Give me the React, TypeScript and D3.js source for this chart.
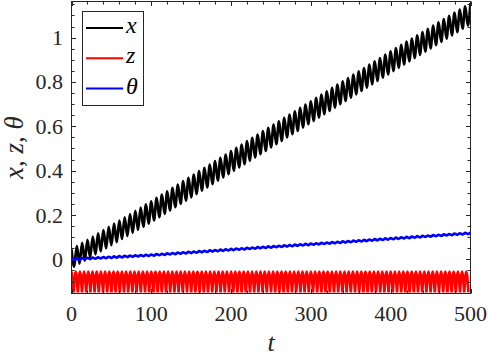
import React, { useEffect, useRef } from 'react';
import * as d3 from 'd3';

// envelope of each trace at these times
const T_KNOTS = [0, 100, 200, 300, 400, 500];
const X_UPPER = [0.045, 0.262, 0.488, 0.713, 0.938, 1.156];
const X_LOWER = [-0.040, 0.168, 0.392, 0.617, 0.842, 1.062];
const Z_UPPER = [-0.055, -0.055, -0.055, -0.055, -0.055, -0.055];
const Z_LOWER = [-0.149, -0.149, -0.149, -0.149, -0.149, -0.149];
const TH_UPPER = [0.003, 0.022, 0.047, 0.071, 0.096, 0.121];
const TH_LOWER = [-0.003, 0.016, 0.041, 0.065, 0.090, 0.115];
// oscillation counts over the whole run
const X_CYCLES = 75;
const Z_CYCLES = 95;
const TH_CYCLES = 75;

const X_TICKS = [0, 100, 200, 300, 400, 500];
const Y_TICKS = [0, 0.2, 0.4, 0.6, 0.8, 1];
const LEGEND = [
  { label: 'x', color: '#000000' },
  { label: 'z', color: '#ff0000' },
  { label: 'θ', color: '#0000ff' },
];

const AX = '#262626';
const FONT = '"Liberation Serif", "Times New Roman", serif';
const LW = 2.7;

function extremes(upper: number[], lower: number[], cycles: number) {
  const up = d3.scaleLinear().domain(T_KNOTS).range(upper);
  const lo = d3.scaleLinear().domain(T_KNOTS).range(lower);
  const tEnd = T_KNOTS[T_KNOTS.length - 1];
  const n = cycles * 2;
  return d3.range(n + 1).map(i => {
    const t = (tEnd * i) / n;
    return [t, i % 2 === 0 ? up(t) : lo(t)] as [number, number];
  });
}

export default function App() {
  const ref = useRef<SVGSVGElement>(null);

  useEffect(() => {
    const svg = d3.select(ref.current);
    svg.selectAll('*').remove();

    const L = 71.5, R = 470.5, T = 1.5, B = 293.5;
    const x = d3.scaleLinear().domain([0, 500]).range([L, R]);
    const y = d3.scaleLinear().domain([-0.154, 1.163]).range([B, T]);

    svg.append('rect').attr('width', 488).attr('height', 356).attr('fill', '#fff');

    svg.append('clipPath').attr('id', 'plot-clip')
      .append('rect').attr('x', L).attr('y', T).attr('width', R - L).attr('height', B - T);

    const plot = svg.append('g').attr('clip-path', 'url(#plot-clip)');

    // x(t)
    const xLine = d3.line<[number, number]>()
      .x(d => x(d[0])).y(d => y(d[1]))
      .curve(d3.curveMonotoneX);
    plot.append('path')
      .attr('d', xLine(extremes(X_UPPER, X_LOWER, X_CYCLES)))
      .attr('fill', 'none').attr('stroke', '#000').attr('stroke-width', LW);

    // z(t): rounded tops, sharp troughs -> one arch per half period
    const zPts = extremes(Z_UPPER, Z_LOWER, Z_CYCLES);
    const arch = d3.line<[number, number]>()
      .x(d => x(d[0])).y(d => y(d[1]))
      .curve(d3.curveNatural);
    let zPath = arch([zPts[0], zPts[1]]) || '';
    for (let i = 1; i + 2 < zPts.length; i += 2) {
      zPath += arch([zPts[i], zPts[i + 1], zPts[i + 2]]);
    }
    plot.append('path')
      .attr('d', zPath)
      .attr('fill', 'none').attr('stroke', '#ff0000').attr('stroke-width', LW)
      .attr('stroke-linejoin', 'round');

    // theta(t)
    plot.append('path')
      .attr('d', xLine(extremes(TH_UPPER, TH_LOWER, TH_CYCLES)))
      .attr('fill', 'none').attr('stroke', '#0000ff').attr('stroke-width', LW);

    // box + ticks
    const axes = svg.append('g').attr('stroke', AX).attr('stroke-width', 1).attr('fill', 'none');
    axes.append('rect').attr('x', L).attr('y', T).attr('width', R - L).attr('height', B - T);

    const xMinor = d3.range(0, 501, 20);
    const yMinor = d3.range(-0.15, 1.16, 0.05);
    xMinor.forEach(v => {
      const len = v % 100 === 0 ? 4.5 : 3;
      const px = Math.round(x(v)) + 0.5;
      axes.append('line').attr('x1', px).attr('x2', px).attr('y1', B).attr('y2', B - len);
      axes.append('line').attr('x1', px).attr('x2', px).attr('y1', T).attr('y2', T + len);
    });
    yMinor.forEach(v => {
      const major = Y_TICKS.some(t => Math.abs(t - v) < 1e-6);
      const len = major ? 4.5 : 3;
      const py = Math.round(y(v)) + 0.5;
      axes.append('line').attr('x1', L).attr('x2', L + len).attr('y1', py).attr('y2', py);
      axes.append('line').attr('x1', R).attr('x2', R - len).attr('y1', py).attr('y2', py);
    });

    const labels = svg.append('g').attr('fill', AX).attr('font-family', FONT).attr('font-size', 22);
    X_TICKS.forEach(v => {
      labels.append('text').attr('x', x(v)).attr('y', 321)
        .attr('text-anchor', 'middle').text(String(v));
    });
    Y_TICKS.forEach(v => {
      labels.append('text').attr('x', 63).attr('y', y(v) + 7.5)
        .attr('text-anchor', 'end').text(String(v));
    });

    // axis titles
    svg.append('text')
      .attr('x', (L + R) / 2).attr('y', 351)
      .attr('text-anchor', 'middle')
      .attr('font-family', FONT).attr('font-style', 'italic').attr('font-size', 26)
      .attr('fill', AX).text('t');
    svg.append('text')
      .attr('transform', `translate(23,${(T + B) / 2}) rotate(-90)`)
      .attr('text-anchor', 'middle')
      .attr('font-family', FONT).attr('font-style', 'italic').attr('font-size', 27)
      .attr('fill', AX).text('x, z, θ');

    // legend
    const lg = svg.append('g');
    lg.append('rect').attr('x', 82.5).attr('y', 11.5).attr('width', 61).attr('height', 94)
      .attr('fill', '#fff').attr('stroke', AX).attr('stroke-width', 1);
    LEGEND.forEach((d, i) => {
      const cy = 28 + i * 30.3;
      lg.append('line').attr('x1', 86).attr('x2', 123).attr('y1', cy).attr('y2', cy)
        .attr('stroke', d.color).attr('stroke-width', 2);
      lg.append('text').attr('x', 126).attr('y', cy + 5)
        .attr('font-family', FONT).attr('font-style', 'italic').attr('font-size', 24)
        .attr('fill', '#000').text(d.label);
    });
  }, []);

  return (
    <svg ref={ref} width={488} height={356}
      style={{ position: 'absolute', left: 0, top: 0, display: 'block' }} />
  );
}
